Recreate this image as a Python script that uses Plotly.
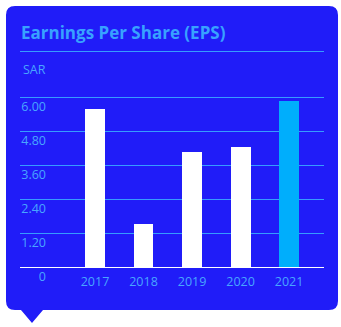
import plotly.graph_objects as go

years = ["2017", "2018", "2019", "2020", "2021"]
eps = [5.61, 1.52, 4.09, 4.24, 5.89]
bar_colors = ["#FFFFFF", "#FFFFFF", "#FFFFFF", "#FFFFFF", "#00AEFC"]
y_tickvals = [0, 1.2, 2.4, 3.6, 4.8, 6.0]
y_ticktext = ["0", "1.20", "2.40", "3.60", "4.80", "6.00"]

W, H = 341, 327
def px(x):
    return x / W
def py(y):
    return 1 - y / H

CARD = "#201CF8"
LIGHT = "#369CFF"
LABEL = "#48A6FF"
FONT = "Open Sans"

fig = go.Figure()
fig.add_trace(go.Bar(
    x=years, y=eps, marker=dict(color=bar_colors, line=dict(width=0)),
    width=0.41, hoverinfo="skip",
))

# card path with rounded corners
x0, x1, y0, y1, r = 6, 338, 6, 310, 9
def P(x, y):
    return f"{px(x):.5f},{py(y):.5f}"
card_path = (
    f"M {P(x0 + r, y0)} L {P(x1 - r, y0)} Q {P(x1, y0)} {P(x1, y0 + r)} "
    f"L {P(x1, y1 - r)} Q {P(x1, y1)} {P(x1 - r, y1)} "
    f"L {P(43, y1)} L {P(32, 323)} L {P(21, y1)} "
    f"L {P(x0 + r, y1)} Q {P(x0, y1)} {P(x0, y1 - r)} "
    f"L {P(x0, y0 + r)} Q {P(x0, y0)} {P(x0 + r, y0)} Z"
)
fig.add_shape(type="path", path=card_path, xref="paper", yref="paper",
              fillcolor=CARD, line=dict(width=0), layer="below")
fig.add_shape(type="line", xref="paper", yref="paper",
              x0=px(20), x1=px(324), y0=py(51.5), y1=py(51.5),
              line=dict(color=LIGHT, width=1), layer="below")

# axis geometry
ybase, ytop = 267, 88.5
fig.update_layout(
    width=W, height=H,
    margin=dict(l=0, r=0, t=0, b=0, pad=0, autoexpand=False),
    paper_bgcolor="#FFFFFF",
    plot_bgcolor="rgba(0,0,0,0)",
    showlegend=False,
    bargap=0,
    title=dict(text="<b>Earnings Per Share (EPS)</b>", x=px(21), xanchor="left",
               y=py(33.5), yanchor="middle", automargin=False,
               font=dict(family=FONT, size=17, color="#38A2FF")),
    xaxis=dict(
        domain=[px(20), px(324)], range=[-1.546, 4.72], automargin=False,
        type="category", showgrid=False, zeroline=False, showline=False,
        ticks="", tickfont=dict(family=FONT, size=12.5, color=LABEL),
        ticklabelstandoff=5, fixedrange=True,
    ),
    yaxis=dict(
        domain=[py(ybase), py(ytop)], range=[0, 6.3], automargin=False,
        tickvals=y_tickvals, ticktext=y_ticktext,
        showgrid=True, gridcolor=LIGHT, gridwidth=1,
        zeroline=True, zerolinecolor="#FFFFFF", zerolinewidth=1,
        showline=False, ticks="",
        tickfont=dict(family=FONT, size=12.5, color=LABEL),
        ticklabelstandoff=-27, ticklabelshift=10, fixedrange=True,
    ),
    annotations=[dict(text="SAR", xref="paper", yref="paper", x=px(20.5), y=py(69.5),
                      xanchor="left", yanchor="middle", showarrow=False,
                      font=dict(family=FONT, size=12.5, color=LABEL))],
)

fig.write_html("out.html")
